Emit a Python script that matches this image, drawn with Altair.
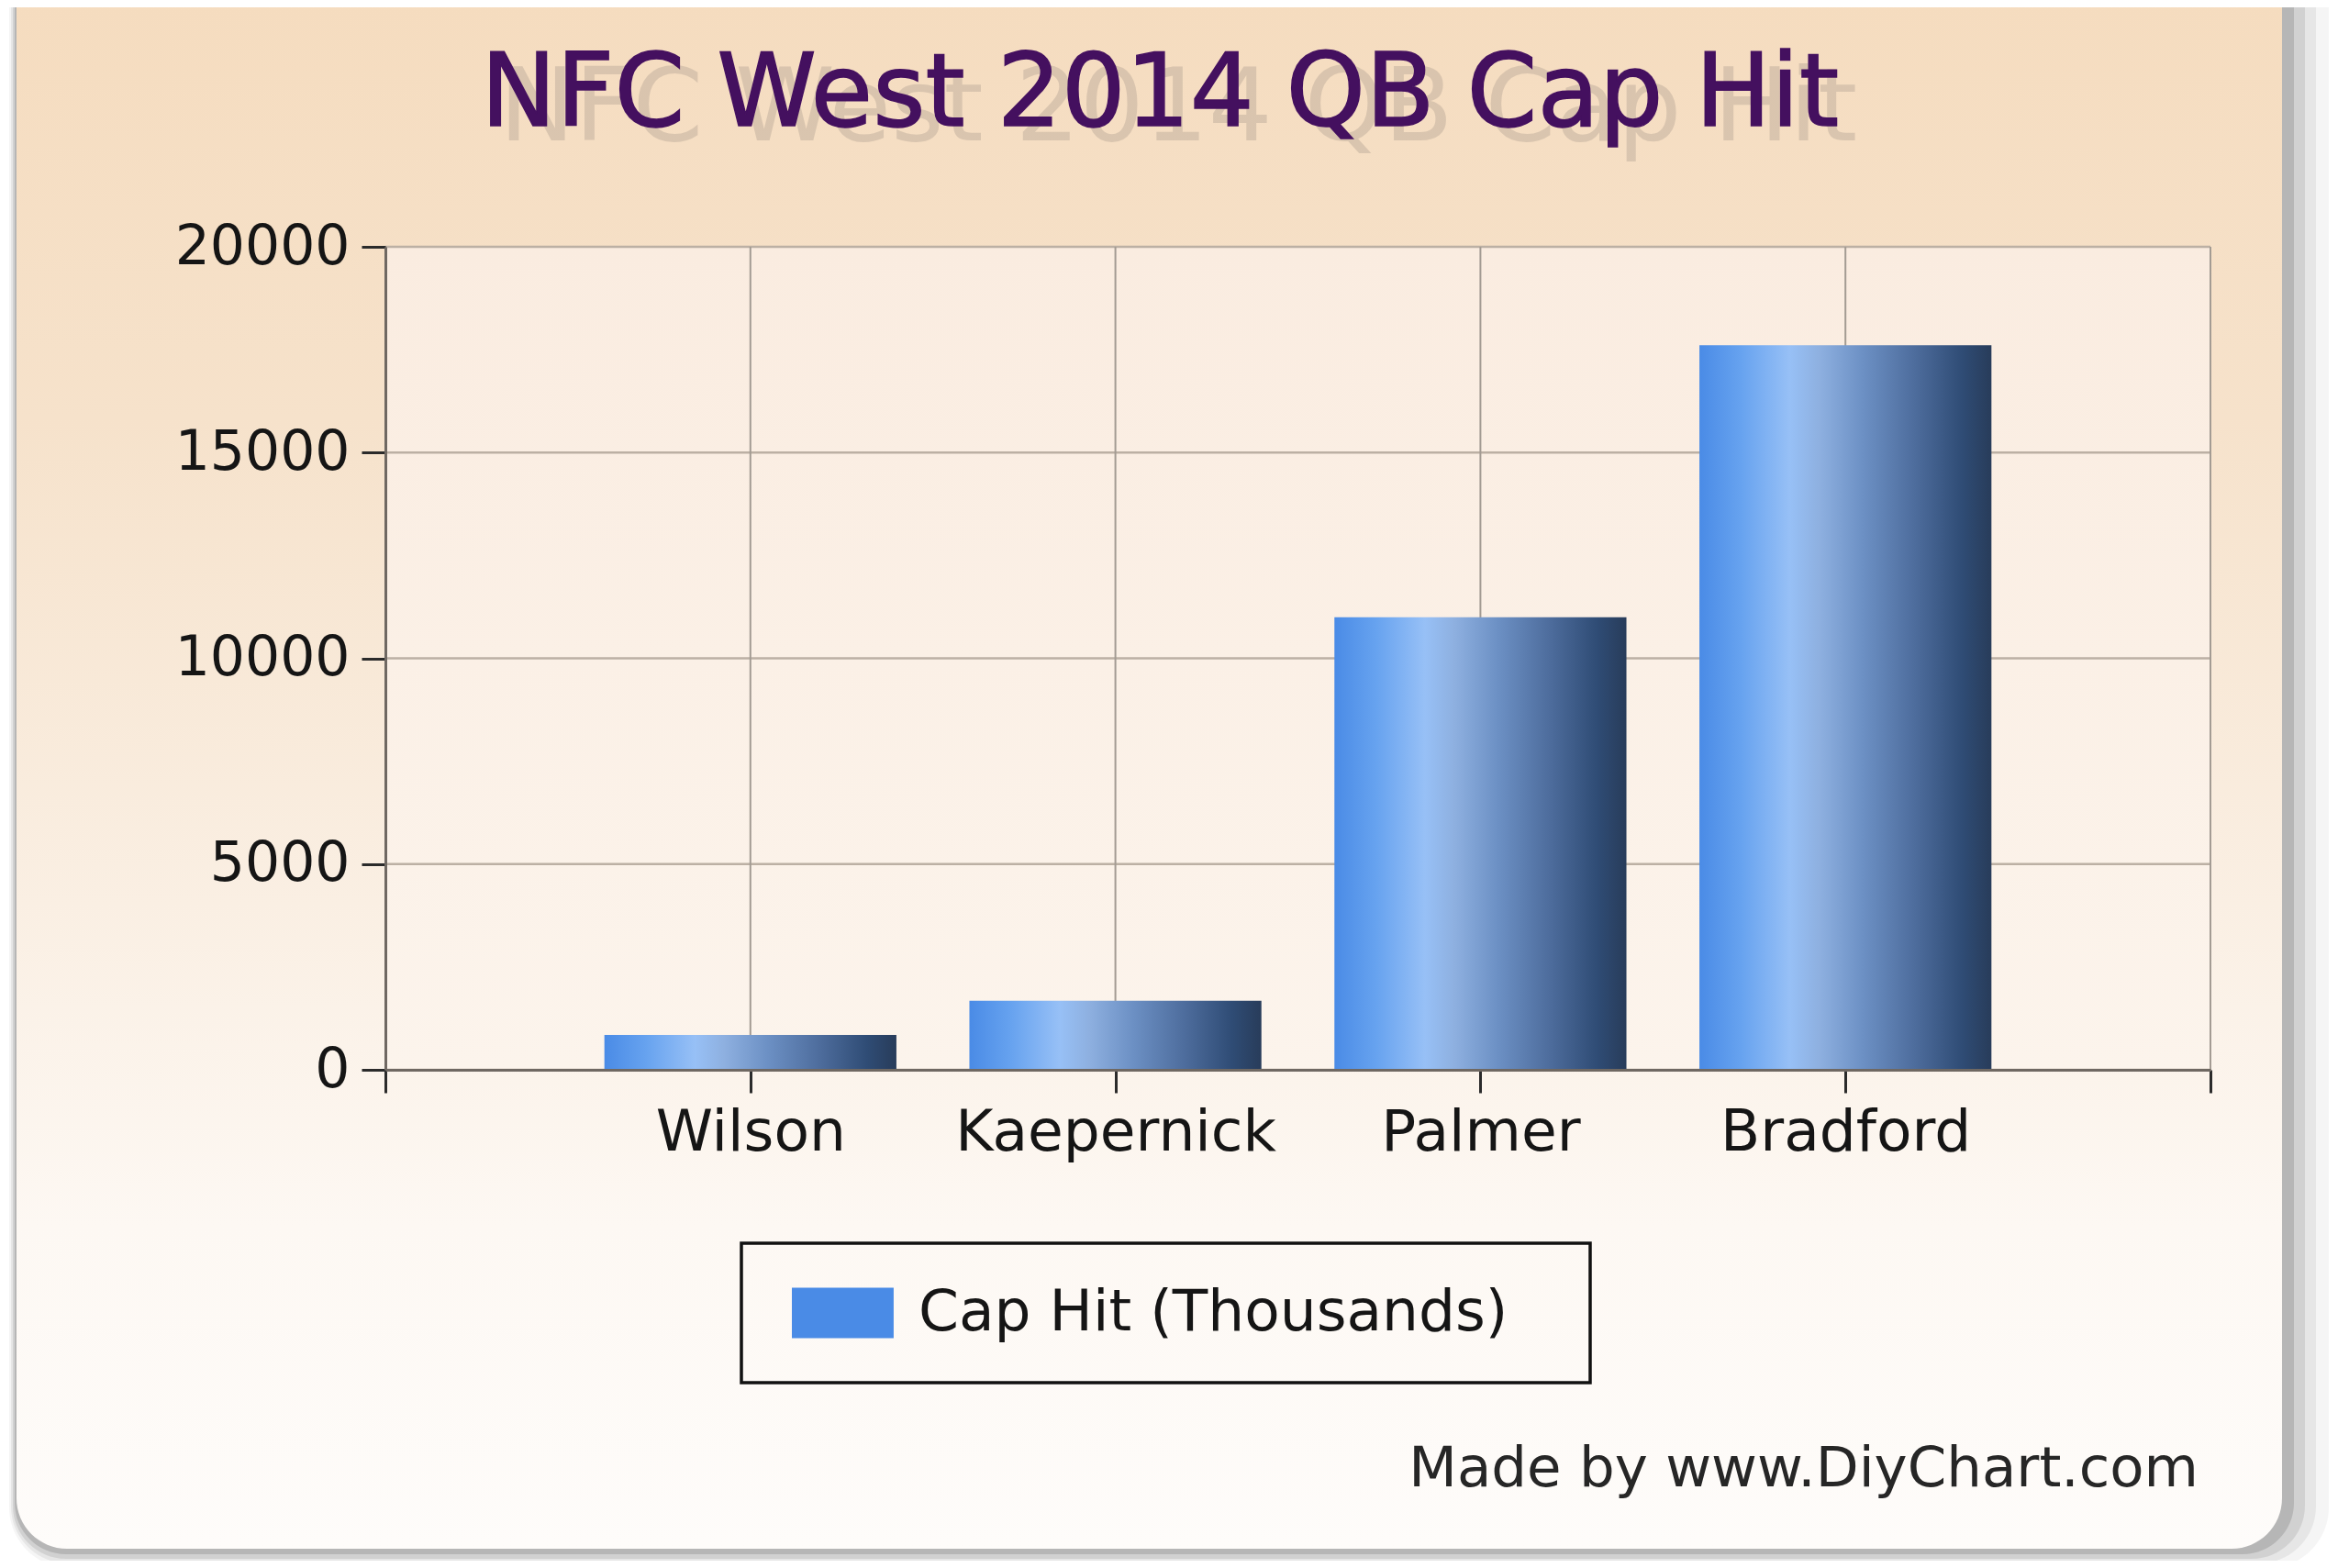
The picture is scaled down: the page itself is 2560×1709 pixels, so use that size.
import json
import altair as alt
import pandas as pd

# ---------------- data ----------------
TITLE = "NFC West 2014 QB Cap Hit"
QBS = ["Wilson", "Kaepernick", "Palmer", "Bradford"]
CAP_HIT = [850, 1680, 11000, 17610]
SERIES = "Cap Hit (Thousands)"
Y_TICKS = [0, 5000, 10000, 15000, 20000]
X_SLOTS = [0, 1, 2, 3, 4, 5]
CREDIT = "Made by www.DiyChart.com"

# ---------------- layout ----------------
W, H = 1989, 897
PAD = {"left": 412, "top": 261, "right": 143, "bottom": 535}
FONT = "DejaVu Sans"

bars_df = pd.DataFrame({
    "qb": QBS,
    "val": CAP_HIT,
    "pos": list(range(1, len(QBS) + 1)),
    "series": [SERIES] * len(QBS),
})
ygrid_df = pd.DataFrame({"val": Y_TICKS})
xgrid_df = pd.DataFrame({"pos": X_SLOTS})
one = pd.DataFrame({"k": [0]})

xs = alt.Scale(domain=[X_SLOTS[0], X_SLOTS[-1]], nice=False, zero=False)
ys = alt.Scale(domain=[Y_TICKS[0], Y_TICKS[-1]], nice=False)

names_js = json.dumps(QBS)
xaxis = alt.Axis(values=X_SLOTS, labelExpr=f"{names_js}[datum.value - 1] || ''",
                 title=None, grid=False, tickSize=25, tickWidth=3, tickColor="#2b2b2b",
                 domainColor="#6f6862", domainWidth=3, labelFontSize=63, labelColor="#151515",
                 labelPadding=12, labelFlush=False, labelOverlap=False, labelLimit=0, zindex=1)
yaxis = alt.Axis(values=Y_TICKS, format="d", title=None, grid=False, tickSize=26,
                 tickWidth=3, tickColor="#2b2b2b", domainColor="#6f6862", domainWidth=3,
                 labelFontSize=60, labelColor="#151515", labelPadding=13, labelLimit=0, zindex=1)


def deco_rect(x, x2, y, y2, **mk):
    return alt.Chart(one).mark_rect(**mk).encode(
        x=alt.value(x), x2=alt.value(x2), y=alt.value(y), y2=alt.value(y2))


panel_grad = alt.LinearGradient(
    gradient="linear", x1=0, y1=0, x2=0, y2=1,
    stops=[alt.GradientStop(color="#f5dbbd", offset=0),
           alt.GradientStop(color="#f6e2cb", offset=0.3),
           alt.GradientStop(color="#faefe3", offset=0.6),
           alt.GradientStop(color="#fdf8f3", offset=0.8),
           alt.GradientStop(color="#fefcfa", offset=1)])
plot_grad = alt.LinearGradient(
    gradient="linear", x1=0, y1=0, x2=0, y2=1,
    stops=[alt.GradientStop(color="#faece0", offset=0),
           alt.GradientStop(color="#fcf4ec", offset=1)])
bar_grad = alt.LinearGradient(
    gradient="linear", x1=0, y1=0, x2=1, y2=0,
    stops=[alt.GradientStop(color="#4a8be6", offset=0),
           alt.GradientStop(color="#66a2ef", offset=0.14),
           alt.GradientStop(color="#97c0f6", offset=0.31),
           alt.GradientStop(color="#8eb0e0", offset=0.41),
           alt.GradientStop(color="#6c90c4", offset=0.56),
           alt.GradientStop(color="#4d6c9c", offset=0.74),
           alt.GradientStop(color="#2f4c75", offset=0.9),
           alt.GradientStop(color="#283c5a", offset=1)])

shadow1 = deco_rect(-410, 2118, -340, 1440, color="#000000", opacity=0.04, cornerRadius=66)
shadow2 = deco_rect(-408, 2104, -340, 1435, color="#000000", opacity=0.06, cornerRadius=62)
shadow3 = deco_rect(-406, 2092, -340, 1430, color="#000000", opacity=0.09, cornerRadius=58)
shadow4 = deco_rect(-404, 2080, -340, 1425, color="#000000", opacity=0.13, cornerRadius=56)
panel = deco_rect(-402, 2067, -340, 1419, fill=panel_grad, cornerRadius=55)
plot_bg = deco_rect(0, W, 0, H, fill=plot_grad)

grid_y = alt.Chart(ygrid_df).mark_rule(color="#bcb0a4", strokeWidth=2.5).encode(
    y=alt.Y("val:Q", scale=ys, axis=yaxis))
grid_x = alt.Chart(xgrid_df).mark_rule(color="#a39b93", strokeWidth=2).encode(
    x=alt.X("pos:Q", scale=xs, axis=xaxis))

bars = alt.Chart(bars_df).transform_calculate(
    x0="datum.pos - 0.4", x1="datum.pos + 0.4"
).mark_rect(fill=bar_grad).encode(
    x=alt.X("x0:Q", scale=xs, axis=xaxis),
    x2="x1:Q",
    y=alt.Y("val:Q", scale=ys, axis=yaxis),
    y2=alt.datum(0),
)

legend_pts = alt.Chart(bars_df).mark_point(filled=True, opacity=0, size=1).encode(
    x=alt.X("pos:Q", scale=xs, axis=xaxis),
    y=alt.Y("val:Q", scale=ys, axis=yaxis),
    color=alt.Color("series:N", scale=alt.Scale(range=["#4a8be6"]),
                    legend=alt.Legend(orient="none", legendX=388, legendY=1086,
                                      title=".", titleOrient="right", titleOpacity=0,
                                      titlePadding=38, titleFontSize=20,
                                      symbolType="M-0.656,-0.86H2.81V0.86H-0.656Z",
                                      symbolSize=4096, symbolOpacity=1, symbolStrokeWidth=0,
                                      labelFontSize=63, labelColor="#151515", labelOffset=85,
                                      labelLimit=0, padding=44, strokeColor="#111111")),
)

title_shadow = alt.Chart(one).mark_text(
    text=TITLE, font=FONT, fontSize=110, align="center", baseline="alphabetic",
    color="#b9a898", opacity=0.45
).encode(x=alt.value(864), y=alt.value(-116))
title_main = alt.Chart(one).mark_text(
    text=TITLE, font=FONT, fontSize=110, align="center", baseline="alphabetic",
    color="#44105f", stroke="#44105f", strokeWidth=1.5
).encode(x=alt.value(844), y=alt.value(-132))
credit = alt.Chart(one).mark_text(
    text=CREDIT, font=FONT, fontSize=61, align="right", baseline="alphabetic",
    color="#262626"
).encode(x=alt.value(1976), y=alt.value(1351))

chart = alt.layer(
    shadow1, shadow2, shadow3, shadow4, panel, plot_bg, grid_y, grid_x, bars, legend_pts,
    title_shadow, title_main, credit
).properties(
    width=W, height=H,
    autosize=alt.AutoSizeParams(type="none"),
    padding=PAD,
    background="#ffffff",
).configure(font=FONT).configure_view(stroke=None).configure_legend(strokeWidth=3.5)

chart.save("out.html", embed_options={"renderer": "svg", "actions": False})
